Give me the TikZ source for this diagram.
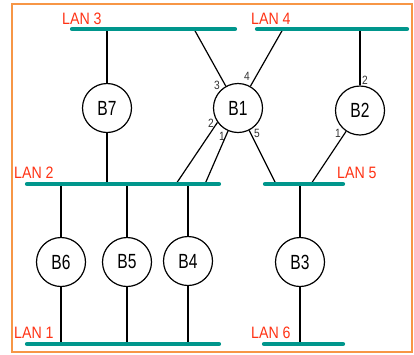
\documentclass[tikz,border=0pt]{standalone}
\usepackage{fontspec}
\setmainfont{Liberation Sans}
\newfontfamily\lanfont[FakeStretch=0.86]{Liberation Sans}
\newfontfamily\bfont[FakeStretch=0.76]{Liberation Sans}
\newfontfamily\portfont[FakeStretch=0.85]{Liberation Sans}
\definecolor{lanteal}{RGB}{0,150,140}
\definecolor{lanred}{RGB}{255,50,20}
\definecolor{frameorange}{RGB}{247,150,70}
\definecolor{portgray}{RGB}{50,50,50}
\tikzset{
  lanline/.style={line width=4.2pt, line cap=round, draw=lanteal},
  lanlabel/.style={anchor=base west, inner sep=0pt, text=lanred, font=\lanfont\fontsize{16.5}{18}\selectfont},
  bridge/.style={circle, draw, line width=1.2pt, minimum size=49pt, inner sep=0pt, fill=white, font=\bfont\fontsize{20.5}{22}\selectfont},
  conn/.style={line width=1.2pt},
  port/.style={inner sep=0pt, text=portgray, font=\portfont\fontsize{12}{13}\selectfont}
}
\begin{document}
\begin{tikzpicture}[x=1pt, y=-1pt]
\useasboundingbox (0,0) rectangle (414,354);
\draw[frameorange, line width=2pt] (12,4) rectangle (412,352);
% LAN coordinates
\coordinate (l3a) at (72,29);  \coordinate (l3b) at (235,29);
\coordinate (l4a) at (257,29); \coordinate (l4b) at (407,29);
\coordinate (l2a) at (27,184); \coordinate (l2b) at (219,184);
\coordinate (l5a) at (265,184);\coordinate (l5b) at (343,184);
\coordinate (l1a) at (27,344); \coordinate (l1b) at (219,344);
\coordinate (l6a) at (264,344);\coordinate (l6b) at (343,344);
% attachment points
\coordinate (p3) at (194,29);
\coordinate (p4) at (283,29);
\coordinate (p2) at (176,184);
\coordinate (p1) at (205,184);
\coordinate (p5) at (276,184);
\coordinate (q1) at (311,184);
% bridges
\node[bridge] (b7) at (107,108) {B7};
\node[bridge] (b1) at (238,108) {B1};
\node[bridge] (b2) at (360,110.5) {B2};
\node[bridge] (b6) at (61,262) {B6};
\node[bridge] (b5) at (127,262) {B5};
\node[bridge] (b4) at (188,261) {B4};
\node[bridge] (b3) at (300,262) {B3};
% connectors
\draw[conn] (b7) -- (b7 |- l3a);
\draw[conn] (b7) -- (b7 |- l2a);
\draw[conn] (b1) -- (p3);
\draw[conn] (b1) -- (p4);
\draw[conn] (b1.215) -- (p2);
\draw[conn] (b1) -- (p1);
\draw[conn] (b1) -- (p5);
\draw[conn] (b2) -- (b2 |- l4a);
\draw[conn] (b2) -- (q1);
\draw[conn] (b6) -- (b6 |- l2a);
\draw[conn] (b6) -- (b6 |- l1a);
\draw[conn] (b5) -- (b5 |- l2a);
\draw[conn] (b5) -- (b5 |- l1a);
\draw[conn] (b4) -- (b4 |- l2a);
\draw[conn] (b4) -- (b4 |- l1a);
\draw[conn] (b3) -- (b3 |- l5a);
\draw[conn] (b3) -- (b3 |- l6a);
% LAN lines
\draw[lanline] (l3a) -- (l3b);
\draw[lanline] (l4a) -- (l4b);
\draw[lanline] (l2a) -- (l2b);
\draw[lanline] (l5a) -- (l5b);
\draw[lanline] (l1a) -- (l1b);
\draw[lanline] (l6a) -- (l6b);
% LAN labels
\node[lanlabel] (t3) at (62,24) {LAN 3};
\node[lanlabel] (t4) at (251,24) {LAN 4};
\node[lanlabel] (t2) at (14,178) {LAN 2};
\node[lanlabel] (t5) at (337,178) {LAN 5};
\node[lanlabel] (t1) at (14,338) {LAN 1};
\node[lanlabel] (t6) at (251,338) {LAN 6};
% port numbers
\node[port] (n3) at (217,85) {3};
\node[port] (n4) at (247,76) {4};
\node[port] (n2) at (211,123) {2};
\node[port] (n1) at (222,136) {1};
\node[port] (n5) at (257,133) {5};
\node[port] (m2) at (365,80) {2};
\node[port] (m1) at (338,133) {1};
\end{tikzpicture}
\end{document}
